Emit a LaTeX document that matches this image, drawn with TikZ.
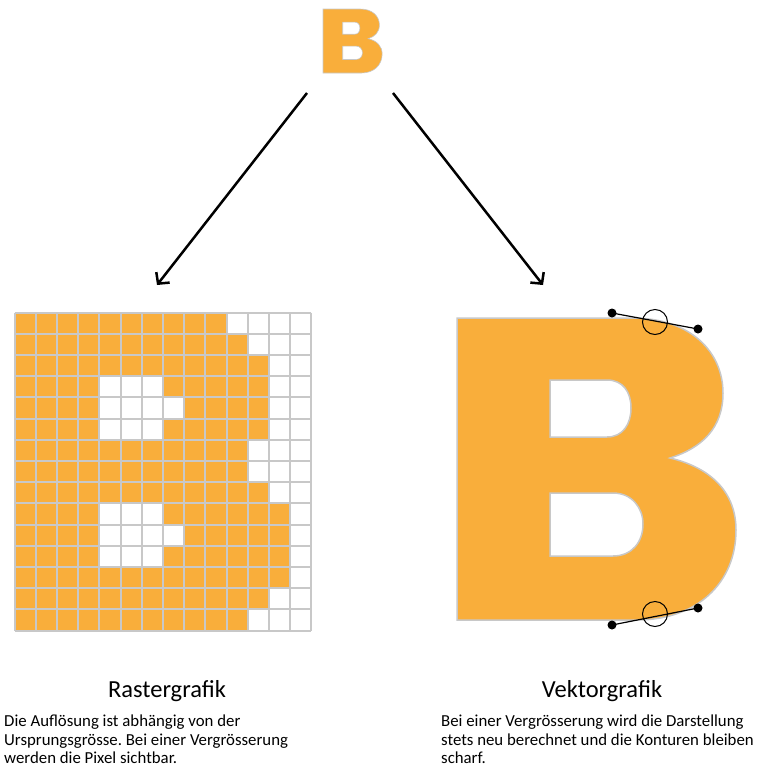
\documentclass[tikz,border=0pt]{standalone}
\usepackage{fontspec}
\setmainfont{Carlito}
\usepackage{tikz}
\usetikzlibrary{positioning, arrows.meta}
\frenchspacing

\definecolor{borange}{RGB}{249,174,59}
\definecolor{bgray}{RGB}{200,200,200}

\tikzset{
  % the letter B, local units: pixels of the large glyph
  letterB/.pic={
    \path[fill=borange, draw=bgray, even odd rule]
      (0,0) -- (175,0) .. controls (235,0) and (266,35) .. (266,75)
      .. controls (266,110) and (245,130) .. (213,140)
      .. controls (255,150) and (279,175) .. (279,212)
      .. controls (279,265) and (240,302) .. (180,302) -- (0,302) -- cycle
      (93,62) -- (150,62) .. controls (166,62) and (174,74) .. (174,90)
      .. controls (174,106) and (166,119) .. (150,119) -- (93,119) -- cycle
      (93,175) -- (156,175) .. controls (175,175) and (186,190) .. (186,206)
      .. controls (186,224) and (175,238) .. (156,238) -- (93,238) -- cycle;
  },
  arr/.style={line width=2.5pt, -{Straight Barb[length=8pt,width=17pt]}},
  gridline/.style={bgray, line width=2pt},
  dot/.style={circle, fill=black, inner sep=0pt, minimum size=9pt},
  ring/.style={circle, draw=black, line width=1pt, inner sep=0pt, minimum size=25pt},
  title/.style={font=\fontsize{24.5}{29}\selectfont, anchor=base},
  body/.style={font=\fontsize{16.8}{18.5}\selectfont, align=left, anchor=north west, inner sep=0pt}
}

\begin{document}
\begin{tikzpicture}[x=1pt, y=-1pt]
\useasboundingbox (0,0) rectangle (759,772);

% small B on top
\pic[scale=0.212, line width=0.6pt] at (323,9) {letterB};

% arrows
\coordinate (srcL) at (307,93);
\coordinate (dstL) at (157,285);
\coordinate (srcR) at (393,93);
\coordinate (dstR) at (543,285);
\draw[arr] (srcL) -- (dstL);
\draw[arr] (srcR) -- (dstR);

% raster grid
\begin{scope}[shift={(14.5,312.5)}, x=21.2pt, y=-21.2pt]
  \foreach \r/\n in {1/10,2/11,3/12,4/12,5/12,6/12,7/11,8/11,9/12,10/13,11/13,12/13,13/13,14/12,15/11}
    \fill[borange] (0,\r-1) rectangle (\n,\r);
  \fill[white] (4,3) rectangle (7,6) (7,4) rectangle (8,5);
  \fill[white] (4,9) rectangle (7,12) (7,10) rectangle (8,11);
  \foreach \i in {0,...,14} \draw[gridline] (\i,0) -- (\i,15);
  \foreach \j in {0,...,15} \draw[gridline] (0,\j) -- (14,\j);
\end{scope}

% vector B with handles
\pic[line width=1.5pt] at (457,318) {letterB};
\node[dot] (ht1) at (612,313) {};
\node[dot] (ht2) at (698,329) {};
\node[ring] (hc1) at (655,322) {};
\draw[line width=1.2pt] (ht1.center) -- (ht2.center);
\node[dot] (hb1) at (612,625) {};
\node[dot] (hb2) at (698,608) {};
\node[ring] (hc2) at (655,614) {};
\draw[line width=1.2pt] (hb1.center) -- (hb2.center);

% captions
\node[title] (tRaster) at (167,697) {Rastergrafik};
\node[title] (tVektor) at (602,697) {Vektorgrafik};
\node[body] (dRaster) at (4,715) {Die Auflösung ist abhängig von der\\Ursprungsgrösse. Bei einer Vergrösserung\\werden die Pixel sichtbar.};
\node[body] (dVektor) at (441,715) {Bei einer Vergrösserung wird die Darstellung\\stets neu berechnet und die Konturen bleiben\\scharf.};
\end{tikzpicture}
\end{document}
